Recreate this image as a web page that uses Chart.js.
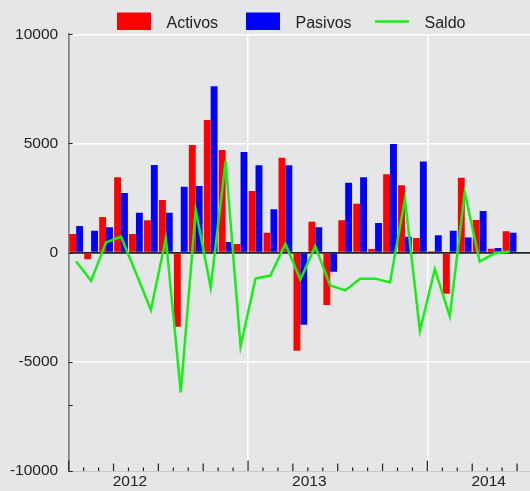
<!DOCTYPE html>
<html>
<head>
<meta charset="utf-8">
<script src="https://cdn.jsdelivr.net/npm/chart.js@4.4.0/dist/chart.umd.min.js"></script>
<style>
  html, body { margin: 0; padding: 0; overflow: hidden; background: #e5e6e8; }
  #wrap { position: relative; width: 532px; height: 491px; }
</style>
</head>
<body>
<div id="wrap"><canvas id="balanceChart"></canvas></div>
<script>
// Monthly categories, Jan 2012 - Jul 2014 (last month is empty, axis runs past the data)
const months = [
  '2012-01', '2012-02', '2012-03', '2012-04', '2012-05', '2012-06',
  '2012-07', '2012-08', '2012-09', '2012-10', '2012-11', '2012-12',
  '2013-01', '2013-02', '2013-03', '2013-04', '2013-05', '2013-06',
  '2013-07', '2013-08', '2013-09', '2013-10', '2013-11', '2013-12',
  '2014-01', '2014-02', '2014-03', '2014-04', '2014-05', '2014-06',
  '2014-07'
];
const yearLabels = ['2012', '2013', '2014'];

const activos = [
  850, -300, 1630, 3450, 850, 1480, 2410, -3390, 4930, 6080, 4700, 400,
  2820, 910, 4350, -4490, 1420, -2400, 1480, 2240, 170, 3590, 3090, 670,
  60, -1880, 3430, 1500, 180, 980
];
const pasivos = [
  1220, 1000, 1160, 2730, 1830, 4010, 1830, 3020, 3050, 7620, 490, 4610,
  4000, 1990, 4000, -3300, 1160, -870, 3200, 3450, 1360, 4980, 730, 4180,
  800, 1000, 690, 1910, 210, 910
];
const saldo = [
  -410, -1290, 470, 730, -930, -2630, 650, -6400, 1950, -1600, 4200, -4300,
  -1190, -1050, 400, -1230, 290, -1500, -1730, -1200, -1190, -1370, 2450, -3580,
  -760, -2920, 2760, -410, -30, 55
];

const yTicks = [-10000, -7000, -5000, 0, 5000, 10000];
const yLabelled = [-10000, -5000, 0, 5000, 10000];

const FONT = 'Liberation Sans, Arial, Helvetica, sans-serif';

// Inward-pointing tick marks on both axes
const axisMarks = {
  id: 'axisMarks',
  afterDraw(chart) {
    const ctx = chart.ctx;
    const xs = chart.scales.x;
    const ys = chart.scales.y;
    const area = chart.chartArea;
    const step = xs.getPixelForValue(1) - xs.getPixelForValue(0);
    const start = xs.getPixelForValue(0) - step / 2;
    ctx.save();
    ctx.strokeStyle = '#222';
    ctx.lineWidth = 1.2;
    for (let k = 0; k <= months.length; k++) {
      const px = start + k * step;
      const len = k % 12 === 0 ? 10.5 : (k % 3 === 0 ? 7.5 : 3.5);
      ctx.beginPath();
      ctx.moveTo(px, area.bottom);
      ctx.lineTo(px, area.bottom - len);
      ctx.stroke();
    }
    ctx.lineWidth = 1;
    ys.ticks.forEach(t => {
      const py = Math.round(ys.getPixelForValue(t.value)) + 0.5;
      ctx.beginPath();
      ctx.moveTo(area.left, py);
      ctx.lineTo(area.left + 4, py);
      ctx.stroke();
    });
    ctx.restore();
  }
};

// Legend row across the top
const legendRow = {
  id: 'legendRow',
  afterDraw(chart) {
    const ctx = chart.ctx;
    const xs = [117, 246, 375];
    ctx.save();
    ctx.font = '16px ' + FONT;
    ctx.textBaseline = 'alphabetic';
    chart.data.datasets.forEach((ds, i) => {
      const x = xs[i];
      if (ds.type === 'line') {
        ctx.strokeStyle = ds.borderColor;
        ctx.lineWidth = 2.5;
        ctx.beginPath();
        ctx.moveTo(x, 21.5);
        ctx.lineTo(x + 34, 21.5);
        ctx.stroke();
      } else {
        ctx.fillStyle = ds.backgroundColor;
        ctx.fillRect(x, 12.5, 34, 17.5);
      }
      ctx.fillStyle = '#222';
      ctx.fillText(ds.label, x + 49.5, 28);
    });
    ctx.restore();
  }
};

const chartCtx = document.getElementById('balanceChart');
new Chart(chartCtx, {
  type: 'bar',
  data: {
    labels: months,
    datasets: [
      {
        label: 'Activos',
        data: activos,
        backgroundColor: '#ff0000',
        borderWidth: 0,
        categoryPercentage: 0.92,
        barPercentage: 1.0,
        order: 1
      },
      {
        label: 'Pasivos',
        data: pasivos,
        backgroundColor: '#0000ff',
        borderWidth: 0,
        categoryPercentage: 0.92,
        barPercentage: 1.0,
        order: 1
      },
      {
        type: 'line',
        label: 'Saldo',
        data: saldo,
        borderColor: '#16ee16',
        borderWidth: 2.5,
        pointRadius: 0,
        tension: 0,
        fill: false,
        order: 0
      }
    ]
  },
  options: {
    responsive: true,
    maintainAspectRatio: false,
    animation: false,
    events: [],
    layout: {
      padding: { top: 34.3, left: 0, right: 0, bottom: 0 }
    },
    plugins: {
      legend: { display: false },
      tooltip: { enabled: false }
    },
    scales: {
      x: {
        afterFit: function(scale) { scale.height = 20; },
        border: { display: true, color: '#c8c8c8', width: 1 },
        grid: {
          offset: true,
          drawTicks: false,
          color: function(c) {
            return (c.index % 12 === 0 && c.index > 0) ? '#ffffff' : 'rgba(0,0,0,0)';
          },
          lineWidth: 1.5
        },
        ticks: {
          autoSkip: false,
          maxRotation: 0,
          padding: 3,
          labelOffset: -6,
          color: '#222',
          font: { size: 15.5, family: FONT, lineHeight: 1 },
          callback: function(value, index) {
            return index % 12 === 4 ? yearLabels[Math.floor(index / 12)] : '';
          }
        }
      },
      y: {
        min: -10000,
        max: 10000,
        afterFit: function(scale) { scale.width = 68.7; },
        afterBuildTicks: function(scale) {
          scale.ticks = yTicks.map(v => ({ value: v }));
        },
        border: { display: true, color: '#808080', width: 1.7 },
        grid: {
          drawTicks: false,
          color: function(c) {
            const v = c.tick ? c.tick.value : null;
            if (v === 0) return '#222222';
            if (v === 5000 || v === -5000 || v === 10000) return '#ffffff';
            return 'rgba(0,0,0,0)';
          },
          lineWidth: function(c) {
            return c.tick && c.tick.value === 0 ? 1.7 : 1.5;
          }
        },
        ticks: {
          padding: 10.5,
          color: '#222',
          font: { size: 15.5, family: FONT },
          callback: function(value) {
            return yLabelled.includes(value) ? String(value) : '';
          }
        }
      }
    }
  },
  plugins: [axisMarks, legendRow]
});
</script>
</body>
</html>
